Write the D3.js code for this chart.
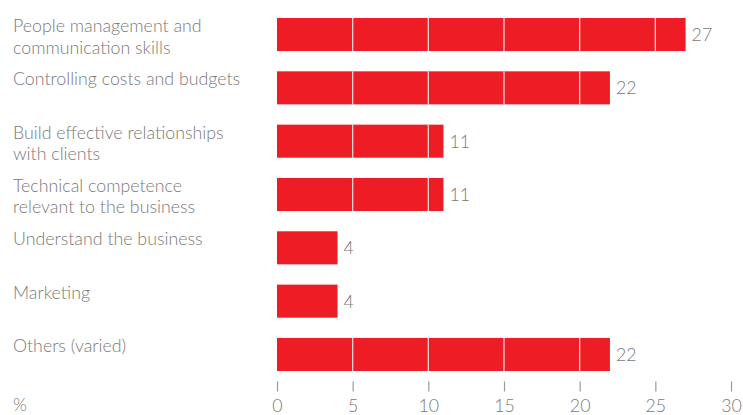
<!DOCTYPE html>
<html>
<head>
<meta charset="utf-8">
<script src="https://cdn.jsdelivr.net/npm/d3@7/dist/d3.min.js"></script>
<style>
  html, body { margin: 0; padding: 0; background: #fff; }
  svg { display: block; }
  text { font-family: Lato, "Open Sans", sans-serif; font-weight: 300; fill: #7a7a7a; }
</style>
</head>
<body>
<svg id="chart" width="743" height="415"></svg>
<script>
// Skills most wanted, share of respondents (%)
const categories = [
  ["People management and", "communication skills"],
  ["Controlling costs and budgets"],
  ["Build effective relationships", "with clients"],
  ["Technical competence", "relevant to the business"],
  ["Understand the business"],
  ["Marketing"],
  ["Others (varied)"]
];
const values = [27, 22, 11, 11, 4, 4, 22];
const xTicks = [0, 5, 10, 15, 20, 25, 30];
const unitLabel = "%";

const svg = d3.select("#chart");
const red = "#ee1d25";
const grey = "#7a7a7a";
const fontSize = "17.8px";

const x = d3.scaleLinear().domain([0, 30]).range([277, 731]);
const y = d3.scaleBand()
  .domain(d3.range(values.length))
  .range([18, 371])
  .paddingInner(0.38)
  .paddingOuter(0);

// Category labels, left aligned with the top of each bar
const labels = svg.append("g").selectAll("text")
  .data(categories)
  .join("text")
  .attr("x", 13)
  .attr("y", (d, i) => y(i) + 14)
  .style("font-size", fontSize);
labels.selectAll("tspan")
  .data(d => d)
  .join("tspan")
  .attr("x", 13)
  .attr("dy", (d, j) => j === 0 ? 0 : 21.5)
  .text(d => d);

// Bars
const bars = svg.append("g");
bars.selectAll("rect")
  .data(values)
  .join("rect")
  .attr("x", x(0))
  .attr("y", (d, i) => y(i))
  .attr("width", d => x(d) - x(0))
  .attr("height", y.bandwidth())
  .attr("fill", red);

// Light gridlines drawn only across the bars
const inner = [];
values.forEach((v, i) => {
  xTicks.filter(t => t > 0 && t < v).forEach(t => inner.push({ t, i }));
});
bars.selectAll("line")
  .data(inner)
  .join("line")
  .attr("x1", d => x(d.t))
  .attr("x2", d => x(d.t))
  .attr("y1", d => y(d.i))
  .attr("y2", d => y(d.i) + y.bandwidth())
  .attr("stroke", "#fbd3d5")
  .attr("stroke-width", 1.3);

// Value labels
svg.append("g").selectAll("text")
  .data(values)
  .join("text")
  .attr("x", d => x(d) + 6)
  .attr("y", (d, i) => y(i) + y.bandwidth() / 2)
  .attr("dy", "0.36em")
  .style("font-size", fontSize)
  .text(d => d);

// Axis
const axis = d3.axisBottom(x).tickValues(xTicks).tickSize(10).tickPadding(8);
const ax = svg.append("g")
  .attr("transform", "translate(0,381.5)")
  .call(axis);
ax.select(".domain").remove();
ax.selectAll(".tick line").attr("stroke", "#999").attr("stroke-width", 1.2);
ax.selectAll(".tick text")
  .attr("fill", grey)
  .style("font-family", "Lato, 'Open Sans', sans-serif")
  .style("font-weight", 300)
  .style("font-size", fontSize);

svg.append("text")
  .attr("x", 13)
  .attr("y", 411)
  .style("font-size", fontSize)
  .text(unitLabel);
</script>
</body>
</html>
